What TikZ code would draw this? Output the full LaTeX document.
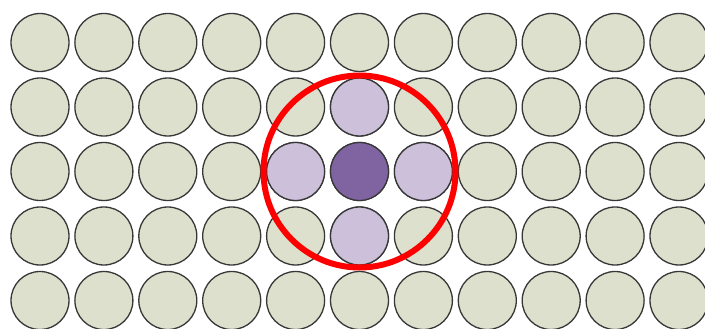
\documentclass[tikz,border=0pt]{standalone}
\usepackage{tikz}
\definecolor{cellgreen}{RGB}{220,224,204}
\definecolor{cellpurple}{RGB}{204,192,218}
\definecolor{cellcenter}{RGB}{128,100,162}
\definecolor{celledge}{RGB}{55,55,55}
\usetikzlibrary{positioning}

\tikzset{
  cell/.style={circle, draw=celledge, line width=1.3pt, fill=cellgreen, minimum size=58pt, inner sep=0pt},
  near/.style={cell, fill=cellpurple},
  focus/.style={cell, fill=cellcenter},
  ring/.style={circle, draw=red, line width=6pt, minimum size=192pt, inner sep=0pt}
}

\begin{document}
\begin{tikzpicture}[x=1pt,y=-1pt]
  \useasboundingbox (0,0) rectangle (705,329);

  %% Grid of cells
  \foreach \i in {0,...,10}{
    \foreach \j in {0,...,4}{
      \node[cell] (c-\i-\j) at ({40+63.9*\i},{42.5+64.5*\j}) {};
    }
  }

  %% Neighbourhood
  \node[near] (n-up)    at (c-5-1) {};
  \node[near] (n-left)  at (c-4-2) {};
  \node[near] (n-right) at (c-6-2) {};
  \node[near] (n-down)  at (c-5-3) {};
  \node[focus] (mid)    at (c-5-2) {};

  %% Highlight ring
  \node[ring] (hl) at (mid) {};
\end{tikzpicture}
\end{document}
